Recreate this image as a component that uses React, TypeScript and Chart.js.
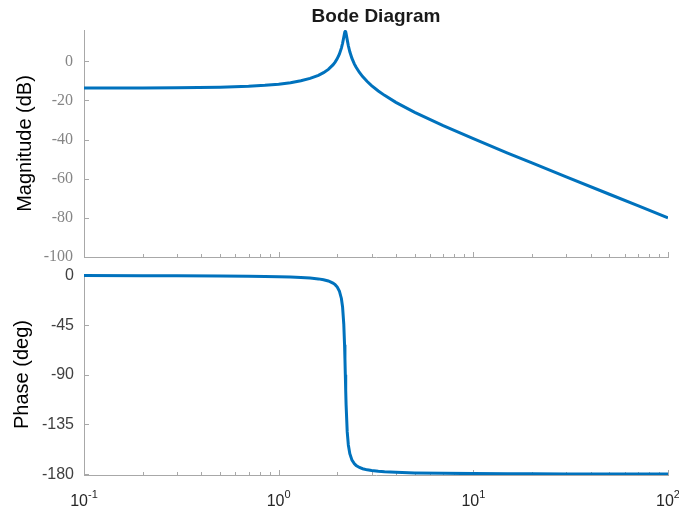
import React, { useEffect, useRef } from "react";
import { Chart, registerables } from "chart.js";

Chart.register(...registerables);

// Frequency response samples (rad/s, dB, degrees)
const freqs = [
  0.1, 0.2, 0.3, 0.5, 0.7, 0.85, 1.0, 1.15, 1.3, 1.45, 1.6, 1.7, 1.8, 1.9, 1.95,
  2.0, 2.05, 2.1, 2.13, 2.16, 2.18, 2.19, 2.2, 2.21, 2.22, 2.25, 2.28, 2.32, 2.38,
  2.45, 2.5, 2.6, 2.7, 2.85, 3.0, 3.25, 3.5, 4, 5, 7, 10, 15, 20, 30, 50, 70, 100,
];
const magnitudeDb = [
  -13.68, -13.62, -13.53, -13.24, -12.77, -12.29, -11.69, -10.92, -9.97, -8.75, -7.16,
  -5.82, -4.12, -1.86, -0.41, 1.37, 3.65, 6.74, 9.23, 12.31, 14.37, 15.07, 15.31, 15.0,
  14.23, 10.95, 7.96, 4.86, 1.46, -1.42, -3.07, -5.71, -7.82, -10.34, -12.4, -15.16,
  -17.4, -20.96, -26.09, -32.9, -39.57, -46.86, -51.93, -59.04, -67.94, -73.8, -80.0,
];
const phaseDeg = [
  -0.09, -0.19, -0.28, -0.49, -0.72, -0.92, -1.16, -1.46, -1.84, -2.37, -3.13, -3.89,
  -5.01, -6.87, -8.34, -10.52, -14.08, -20.85, -28.72, -44.02, -62.74, -75.59, -90.0,
  -104.35, -117.04, -141.74, -153.61, -161.55, -167.31, -170.66, -172.13, -173.97,
  -175.09, -176.13, -176.78, -177.46, -177.89, -178.4, -178.89, -179.29, -179.53,
  -179.7, -179.77, -179.85, -179.91, -179.94, -179.96,
];

const magTicks = [0, -20, -40, -60, -80, -100];
const phaseTicks = [0, -45, -90, -135, -180];
const decades = [0.1, 1, 10, 100];
const decadeExponents = ["-1", "0", "1", "2"];

const BLUE = "#0072BD";
const AXIS = "#a8a8a8";
const SANS = '"Liberation Sans", Arial, Helvetica, sans-serif';
const SERIF = '"Liberation Serif", "Times New Roman", serif';

// 1..9 multiples of every decade between the first and last decade
const logTickValues: number[] = [];
for (let i = 0; i < decades.length - 1; i++) {
  for (let m = 1; m <= 9; m++) logTickValues.push(+(decades[i] * m).toPrecision(3));
}
logTickValues.push(decades[decades.length - 1]);

function toPoints(ys: number[]) {
  return freqs.map((f, i) => ({ x: f, y: ys[i] }));
}

// Short inward tick marks on the left and bottom axis lines
function inwardTicks(yTicks: number[]) {
  return {
    id: "inwardTicks",
    beforeDatasetsDraw(chart: any) {
      const { ctx, chartArea, scales } = chart;
      const xs = scales.x;
      const ys = scales.y;
      ctx.save();
      ctx.strokeStyle = AXIS;
      ctx.lineWidth = 1;
      ctx.beginPath();
      for (const v of yTicks) {
        const py = Math.round(ys.getPixelForValue(v)) + 0.5;
        ctx.moveTo(chartArea.left, py);
        ctx.lineTo(chartArea.left + 5, py);
      }
      for (const v of logTickValues) {
        const px = Math.round(xs.getPixelForValue(v)) + 0.5;
        const len = decades.includes(v) ? 5 : 3;
        ctx.moveTo(px, chartArea.bottom);
        ctx.lineTo(px, chartArea.bottom - len);
      }
      ctx.stroke();
      ctx.restore();
    },
  };
}

// Decade labels written as 10 with a raised exponent
const decadeLabels = {
  id: "decadeLabels",
  afterDraw(chart: any) {
    const { ctx, chartArea, scales } = chart;
    const xs = scales.x;
    const baseFont = `16px ${SANS}`;
    const expFont = `11px ${SANS}`;
    ctx.save();
    ctx.fillStyle = "#262626";
    ctx.textAlign = "left";
    ctx.textBaseline = "alphabetic";
    decades.forEach((d, i) => {
      const px = xs.getPixelForValue(d);
      ctx.font = baseFont;
      const wb = ctx.measureText("10").width;
      ctx.font = expFont;
      const we = ctx.measureText(decadeExponents[i]).width;
      const left = px - (wb + we) / 2;
      ctx.font = baseFont;
      ctx.fillText("10", left, chartArea.bottom + 31);
      ctx.font = expFont;
      ctx.fillText(decadeExponents[i], left + wb, chartArea.bottom + 23);
    });
    ctx.restore();
  },
};

function lineDataset(ys: number[]) {
  return {
    data: toPoints(ys),
    borderColor: BLUE,
    backgroundColor: BLUE,
    borderWidth: 3,
    pointRadius: 0,
    tension: 0,
    fill: false,
  };
}

function xScale(height: number) {
  return {
    type: "logarithmic" as const,
    min: 0.1,
    max: 100,
    grid: { display: false, drawTicks: false },
    border: { display: true, color: AXIS, width: 1 },
    ticks: { display: false },
    afterFit: (s: any) => {
      s.height = height;
      s.paddingLeft = 0;
      s.paddingRight = 0;
    },
  };
}

function fixedYFit(s: any) {
  s.width = 84;
  s.paddingTop = 0;
  s.paddingBottom = 0;
}

export default function App() {
  const magRef = useRef<HTMLCanvasElement>(null);
  const phaseRef = useRef<HTMLCanvasElement>(null);

  useEffect(() => {
    const mag = new Chart(magRef.current as HTMLCanvasElement, {
      type: "line",
      data: { datasets: [lineDataset(magnitudeDb)] },
      options: {
        animation: false,
        responsive: false,
        layout: { padding: { left: 0, right: 11, top: 0, bottom: 0 } },
        plugins: {
          legend: { display: false },
          tooltip: { enabled: false },
          title: {
            display: true,
            text: "Bode Diagram",
            fullSize: false,
            color: "#1a1a1a",
            font: { family: SANS, size: 19, weight: "bold" },
            padding: { top: 5, bottom: 2.2 },
          },
        },
        scales: {
          x: xScale(5),
          y: {
            type: "linear",
            min: -100,
            max: 16,
            grid: { display: false, drawTicks: false },
            border: { display: true, color: AXIS, width: 1 },
            ticks: {
              color: "#858585",
              font: { family: SERIF, size: 16 },
              padding: 11,
              callback: (v: any) => String(v),
            },
            afterBuildTicks: (s: any) => {
              s.ticks = magTicks.map((v) => ({ value: v }));
            },
            afterFit: fixedYFit,
            title: {
              display: true,
              text: "Magnitude (dB)",
              color: "#000",
              font: { family: SANS, size: 20 },
              padding: { top: 13, bottom: 0 },
            },
          },
        },
      },
      plugins: [inwardTicks(magTicks)],
    } as any);

    const phase = new Chart(phaseRef.current as HTMLCanvasElement, {
      type: "line",
      data: { datasets: [lineDataset(phaseDeg)] },
      options: {
        animation: false,
        responsive: false,
        layout: { padding: { left: 0, right: 11, top: 12, bottom: 0 } },
        plugins: {
          legend: { display: false },
          tooltip: { enabled: false },
        },
        scales: {
          x: xScale(33),
          y: {
            type: "linear",
            min: -180.8,
            max: 1.3,
            grid: { display: false, drawTicks: false },
            border: { display: true, color: AXIS, width: 1 },
            ticks: {
              color: "#404040",
              font: { family: SANS, size: 16 },
              padding: 10,
              callback: (v: any) => String(v),
            },
            afterBuildTicks: (s: any) => {
              s.ticks = phaseTicks.map((v) => ({ value: v }));
            },
            afterFit: fixedYFit,
            title: {
              display: true,
              text: "Phase (deg)",
              color: "#000",
              font: { family: SANS, size: 20 },
              padding: { top: 10, bottom: 0 },
            },
          },
        },
      },
      plugins: [inwardTicks(phaseTicks), decadeLabels],
    } as any);

    return () => {
      mag.destroy();
      phase.destroy();
    };
  }, []);

  return (
    <div
      style={{
        position: "absolute",
        left: 0,
        top: 0,
        width: 679,
        height: 508,
        background: "#fff",
        overflow: "hidden",
      }}
    >
      <canvas
        ref={magRef}
        width={679}
        height={262}
        style={{ position: "absolute", left: 0, top: 0 }}
      />
      <canvas
        ref={phaseRef}
        width={679}
        height={246}
        style={{ position: "absolute", left: 0, top: 262 }}
      />
    </div>
  );
}
